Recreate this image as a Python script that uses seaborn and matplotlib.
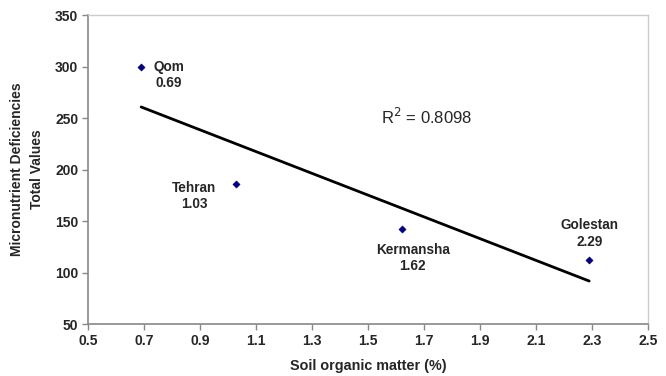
import numpy as np
import matplotlib
matplotlib.use("Agg")
import matplotlib.pyplot as plt
import pandas as pd
import seaborn as sns

# Données
provinces = ["Qom", "Tehran", "Kermansha", "Golestan"]
organic_matter = [0.69, 1.03, 1.62, 2.29]
deficiencies = [300, 186, 142, 112]
# positions des étiquettes (centre du texte, en unités des données)
label_x = [0.79, 0.88, 1.66, 2.29]
label_y = [292, 174, 114, 138]

x_ticks = [0.5, 0.7, 0.9, 1.1, 1.3, 1.5, 1.7, 1.9, 2.1, 2.3, 2.5]
y_ticks = [50, 100, 150, 200, 250, 300, 350]

df = pd.DataFrame({"province": provinces, "som": organic_matter, "def": deficiencies})

sns.set_style("white")
plt.rcParams['font.family'] = ['Liberation Sans', 'DejaVu Sans']

fig = plt.figure(figsize=(6.66, 3.76), dpi=100)
ax = fig.add_axes([0.132, 0.138, 0.841, 0.822])

sns.regplot(data=df, x="som", y="def", ci=None, scatter=False,
            line_kws={"color": "black", "linewidth": 2}, ax=ax)
sns.scatterplot(data=df, x="som", y="def", marker="D", s=14,
                color="#000080", edgecolor="#000080", ax=ax, zorder=3)

# R² de la régression
slope, intercept = np.polyfit(df["som"], df["def"], 1)
pred = slope * df["som"] + intercept
r2 = 1 - ((df["def"] - pred) ** 2).sum() / ((df["def"] - df["def"].mean()) ** 2).sum()
ax.text(1.71, 251, f"R$^2$ = {r2:.4f}", ha="center", va="center", fontsize=12)

for name, val, lx, ly in zip(provinces, organic_matter, label_x, label_y):
    ax.text(lx, ly, f"{name}\n{val:.2f}", ha="center", va="center",
            fontsize=9.8, fontweight="bold", linespacing=1.2)

ax.set_xlim(0.5, 2.5)
ax.set_ylim(50, 350)
ax.set_xticks(x_ticks)
ax.set_yticks(y_ticks)
ax.set_xticklabels([f"{t:.1f}" for t in x_ticks], fontweight="bold", fontsize=10)
ax.set_yticklabels([str(t) for t in y_ticks], fontweight="bold", fontsize=10)
ax.tick_params(axis="both", direction="out", length=4, width=1, color="#888888",
               bottom=True, left=True, pad=3)

for side in ["left", "bottom"]:
    ax.spines[side].set_color("#888888")
    ax.spines[side].set_linewidth(1.2)
for side in ["top", "right"]:
    ax.spines[side].set_color("#cccccc")
    ax.spines[side].set_linewidth(1)

ax.set_xlabel("Soil organic matter (%)", fontweight="bold", fontsize=10.4, labelpad=8)
ax.set_ylabel("Micronutrient Deficiencies\nTotal Values", fontweight="bold", fontsize=10,
              labelpad=8, linespacing=1.5)

fig.savefig("out.png", dpi=100)
